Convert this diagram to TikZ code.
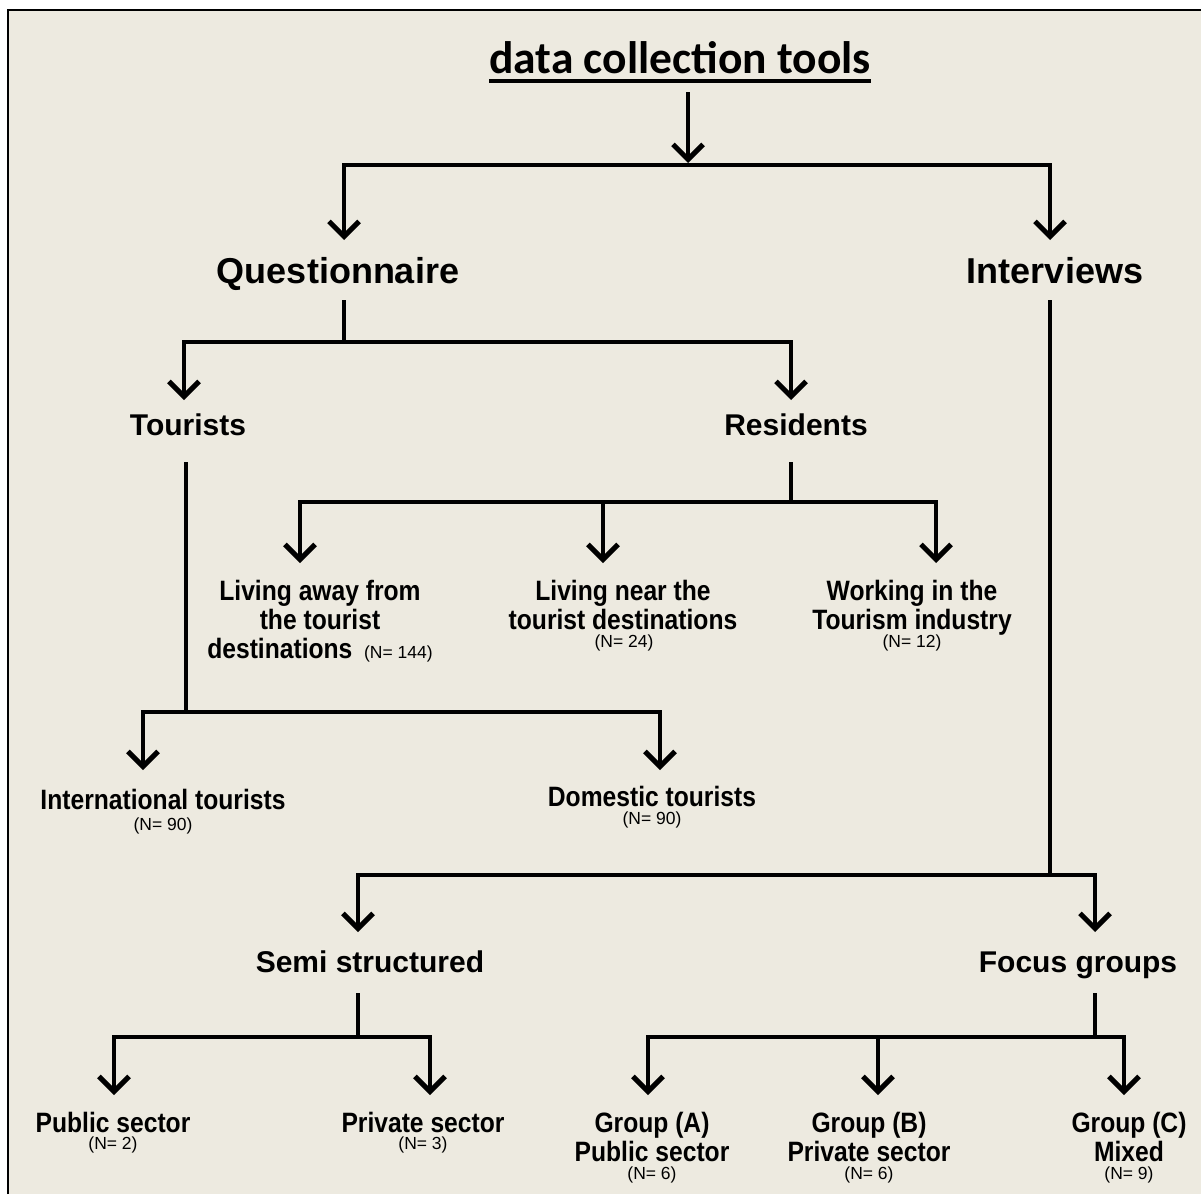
\documentclass[tikz,border=0pt]{standalone}
\usepackage{fontspec}
\setmainfont{Liberation Sans}
\newfontfamily\titlefnt{Carlito}
\newfontfamily\condf[FakeStretch=0.88]{Liberation Sans}
\usetikzlibrary{arrows.meta}
\definecolor{bgc}{HTML}{EDEAE0}
\tikzset{
 ln/.style={line width=4.5pt},
 arr/.style={ln,-{Straight Barb[length=15pt,width=30pt,line width=5pt]}},
 big/.style={font=\fontsize{36}{40}\selectfont\bfseries, inner sep=0, text height=26pt, text depth=0pt},
 mid/.style={font=\fontsize{30}{34}\selectfont\bfseries, inner sep=0, text height=22pt, text depth=0pt},
 cnd/.style={font=\condf\fontsize{28}{29}\selectfont\bfseries, align=center, inner sep=0,
   execute at begin node=\strut, execute at end node=\strut},
 nlab/.style={font=\fontsize{17.5}{20}\selectfont, inner sep=0},
}
\begin{document}
\begin{tikzpicture}[x=1pt,y=-1pt]
\useasboundingbox (0,0) rectangle (1201,1194);
\fill[white] (0,0) rectangle (1201,1194);
\fill[bgc] (8,10) rectangle (1201,1194);
\draw[line width=2pt] (8,1194) -- (8,10) -- (1201,10);

% title
\node[inner sep=0, font=\titlefnt\fontsize{45.5}{50}\selectfont\bfseries] (title) at (680,58) {data collection tools};
\draw[line width=3.5pt] ([yshift=-7pt]title.base west) -- ([yshift=-7pt]title.base east);

% level 1
\coordinate (t0) at (688,92);
\coordinate (ttip) at (688,163);
\coordinate (tbar) at (688,165);
\coordinate (qin) at (344,240);
\coordinate (iin) at (1050,240);
\draw[arr] (t0) -- (ttip);
\draw[arr] (tbar) -| (qin);
\draw[arr] (tbar) -| (iin);

\node[big] (quest) at (338,270) {Questionnaire};
\node[big] (interv) at (1055,270) {Interviews};

% questionnaire branch
\coordinate (qs) at (344,300);
\coordinate (qj) at (344,342);
\coordinate (tin) at (184,400);
\coordinate (rin) at (791,400);
\draw[ln] (qs) -- (qj);
\draw[arr] (qj) -| (tin);
\draw[arr] (qj) -| (rin);

\node[mid] (tour) at (188,424) {Tourists};
\node[mid] (resid) at (796,424) {Residents};

% residents branch
\coordinate (rs) at (791,462);
\coordinate (rj) at (791,502);
\coordinate (a1) at (300,563);
\coordinate (a2top) at (603,502);
\coordinate (a2) at (603,563);
\coordinate (a3) at (936,563);
\draw[ln] (rs) -- (rj);
\draw[arr] (rj) -| (a1);
\draw[arr] (rj) -| (a3);
\draw[arr] (a2top) -- (a2);

\node[cnd] (away) at (320,623.2) {Living away from\\the tourist\\destinations {\fontsize{17.5}{20}\selectfont\mdseries\rmfamily\ (N= 144)}};
\node[cnd] (near) at (623,608.7) {Living near the\\tourist destinations};
\node[nlab] (nnear) at (624,643) {(N= 24)};
\node[cnd] (work) at (912,608.7) {Working in the\\Tourism industry};
\node[nlab] (nwork) at (912,643) {(N= 12)};

% tourists branch
\coordinate (ts) at (186,462);
\coordinate (tj) at (186,712);
\coordinate (itin) at (143,770);
\coordinate (dtin) at (660,770);
\draw[ln] (ts) -- (tj);
\draw[arr] (tj) -| (itin);
\draw[arr] (tj) -| (dtin);

\node[cnd] (intl) at (163,803.2) {International tourists};
\node[nlab] (nintl) at (163,826) {(N= 90)};
\node[cnd] (dom) at (652,800.2) {Domestic tourists};
\node[nlab] (ndom) at (652,820) {(N= 90)};

% interviews branch
\coordinate (is) at (1050,300);
\coordinate (ij) at (1050,875);
\coordinate (ssin) at (358,932);
\coordinate (fgin) at (1095,932);
\draw[ln] (is) -- (ij);
\draw[arr] (ij) -| (ssin);
\draw[arr] (ij) -| (fgin);

\node[mid] (semi) at (370,961) {Semi structured};
\node[mid] (focus) at (1078,961) {Focus groups};

% semi structured branch
\coordinate (ss) at (358,993);
\coordinate (sj) at (358,1037);
\coordinate (psin) at (114,1095);
\coordinate (prin) at (430,1095);
\draw[ln] (ss) -- (sj);
\draw[arr] (sj) -| (psin);
\draw[arr] (sj) -| (prin);

\node[cnd] (pub) at (113,1126.2) {Public sector};
\node[nlab] (npub) at (113,1145) {(N= 2)};
\node[cnd] (priv) at (423,1126.2) {Private sector};
\node[nlab] (npriv) at (423,1145) {(N= 3)};

% focus groups branch
\coordinate (fs) at (1095,993);
\coordinate (fj) at (1095,1037);
\coordinate (ga) at (648,1095);
\coordinate (gbtop) at (878,1037);
\coordinate (gb) at (878,1095);
\coordinate (gc) at (1124,1095);
\draw[ln] (fs) -- (fj);
\draw[arr] (fj) -| (ga);
\draw[arr] (fj) -| (gc);
\draw[arr] (gbtop) -- (gb);

\node[cnd] (grpa) at (652,1140.7) {Group (A)\\Public sector};
\node[nlab] (ngrpa) at (652,1175) {(N= 6)};
\node[cnd] (grpb) at (869,1140.7) {Group (B)\\Private sector};
\node[nlab] (ngrpb) at (869,1175) {(N= 6)};
\node[cnd] (grpc) at (1129,1140.7) {Group (C)\\Mixed};
\node[nlab] (ngrpc) at (1129,1175) {(N= 9)};
\end{tikzpicture}
\end{document}
